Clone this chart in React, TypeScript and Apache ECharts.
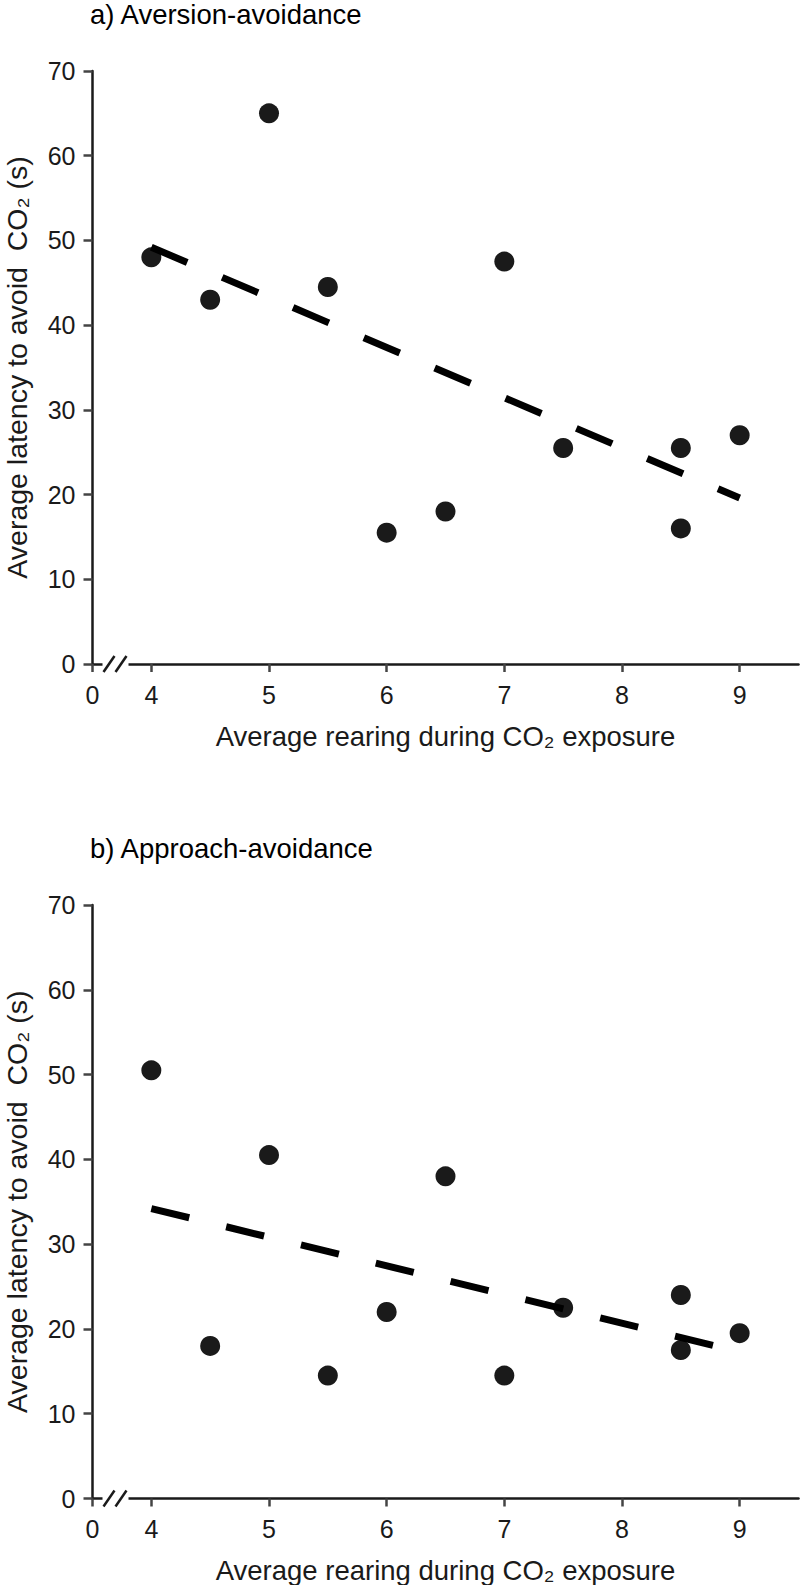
import React, { useEffect, useRef } from "react";
import * as echarts from "echarts";

// ---- data ----
const panelTitles = ["a) Aversion-avoidance", "b) Approach-avoidance"];
const xAxisTitle = "Average rearing during CO\u2082 exposure";
const yAxisTitle = "Average latency to avoid  CO\u2082 (s)";

const xTickValues = [3.5, 4, 5, 6, 7, 8, 9];
const xTickLabels = ["0", "4", "5", "6", "7", "8", "9"];

const rearingA = [4, 4.5, 5, 5.5, 6, 6.5, 7, 7.5, 8.5, 8.5, 9];
const latencyA = [48, 43, 65, 44.5, 15.5, 18, 47.5, 25.5, 25.5, 16, 27];
const trendA = [
  [4, 49.2],
  [9, 19.6],
];

const rearingB = [4, 4.5, 5, 5.5, 6, 6.5, 7, 7.5, 8.5, 8.5, 9];
const latencyB = [50.5, 18, 40.5, 14.5, 22, 38, 14.5, 22.5, 24, 17.5, 19.5];
const trendB = [
  [4, 34.2],
  [9, 17.3],
];

const FONT = "'Liberation Sans', Arial, sans-serif";
const INK = "#1a1a1a";

export default function App() {
  const ref = useRef<HTMLDivElement>(null);

  useEffect(() => {
    if (!ref.current) return;
    const chart = echarts.init(ref.current, undefined, { renderer: "svg" });

    const grids = [
      { left: 92.5, top: 71, width: 706, height: 593, outerBoundsMode: "none", containLabel: false },
      { left: 92.5, top: 905, width: 706, height: 593.5, outerBoundsMode: "none", containLabel: false },
    ];

    const xAxes: any[] = [];
    const yAxes: any[] = [];
    grids.forEach((g, i) => {
      xAxes.push({
        type: "value",
        gridIndex: i,
        min: 3.5,
        max: 9.5,
        position: "bottom",
        axisLine: { show: true, onZero: false, lineStyle: { color: INK, width: 2.5 } },
        axisTick: { show: false },
        axisLabel: { show: false },
        splitLine: { show: false },
        name: xAxisTitle,
        nameLocation: "middle",
        nameGap: 58,
        nameTextStyle: { fontFamily: FONT, fontSize: 27.5, color: INK },
      });
      xAxes.push({
        type: "value",
        gridIndex: i,
        min: 3.5,
        max: 9.5,
        position: "bottom",
        offset: 8,
        axisLine: { show: false },
        axisTick: {
          show: true,
          length: 8,
          customValues: xTickValues,
          lineStyle: { color: "#444", width: 2.5 },
        },
        axisLabel: {
          show: true,
          customValues: xTickValues,
          margin: 10,
          fontFamily: FONT,
          fontSize: 25,
          color: INK,
          formatter: (v: number) => {
            const k = xTickValues.findIndex((t) => Math.abs(t - v) < 1e-6);
            return k >= 0 ? xTickLabels[k] : "";
          },
        },
        splitLine: { show: false },
      });
      yAxes.push({
        type: "value",
        gridIndex: i,
        min: 0,
        max: 70,
        interval: 10,
        axisLine: { show: true, lineStyle: { color: INK, width: 2.5 } },
        axisTick: { show: true, length: 9, lineStyle: { color: "#444", width: 2.5 } },
        axisLabel: { margin: 17, fontFamily: FONT, fontSize: 25, color: INK },
        splitLine: { show: false },
        name: yAxisTitle,
        nameLocation: "middle",
        nameRotate: 90,
        nameGap: 61,
        nameTextStyle: { fontFamily: FONT, fontSize: 28.5, color: INK },
      });
    });

    const scatterStyle = {
      type: "scatter",
      symbol: "circle",
      symbolSize: 20,
      itemStyle: { color: INK, opacity: 1 },
      z: 2,
    };
    const lineStyle = {
      type: "line",
      showSymbol: false,
      symbol: "none",
      lineStyle: { color: "#000", width: 7, type: [39, 38], cap: "butt" },
      z: 3,
    };

    chart.setOption({
      animation: false,
      backgroundColor: "#fff",
      title: panelTitles.map((t, i) => ({
        text: t,
        left: 90,
        top: i === 0 ? 0 : 834,
        padding: 0,
        textStyle: { fontFamily: FONT, fontSize: 27.5, fontWeight: "normal", color: "#000" },
      })),
      grid: grids,
      xAxis: xAxes,
      yAxis: yAxes,
      series: [
        { ...scatterStyle, xAxisIndex: 0, yAxisIndex: 0, data: rearingA.map((x, i) => [x, latencyA[i]]) },
        { ...lineStyle, xAxisIndex: 0, yAxisIndex: 0, data: trendA },
        { ...scatterStyle, xAxisIndex: 2, yAxisIndex: 1, data: rearingB.map((x, i) => [x, latencyB[i]]) },
        { ...lineStyle, xAxisIndex: 2, yAxisIndex: 1, data: trendB },
      ],
    });

    // axis-break marks on the x axes
    const graphics: any[] = [];
    [0, 1].forEach((i) => {
      const p = chart.convertToPixel({ xAxisIndex: i * 2, yAxisIndex: i } as any, [3.5, 0]) as number[];
      if (!p) return;
      const [x0, y0] = p;
      graphics.push({
        type: "rect",
        shape: { x: x0 + 10, y: y0 - 3, width: 26, height: 6 },
        style: { fill: "#fff" },
        z: 100,
      });
      graphics.push({
        type: "line",
        shape: { x1: x0 + 11, y1: y0 + 8, x2: x0 + 22, y2: y0 - 8 },
        style: { stroke: INK, lineWidth: 2.5 },
        z: 101,
      });
      graphics.push({
        type: "line",
        shape: { x1: x0 + 23, y1: y0 + 8, x2: x0 + 34, y2: y0 - 8 },
        style: { stroke: INK, lineWidth: 2.5 },
        z: 101,
      });
    });
    chart.setOption({ graphic: graphics });

    return () => chart.dispose();
  }, []);

  return (
    <div
      ref={ref}
      style={{ position: "absolute", left: 0, top: 0, width: 800, height: 1585, background: "#fff" }}
    />
  );
}
